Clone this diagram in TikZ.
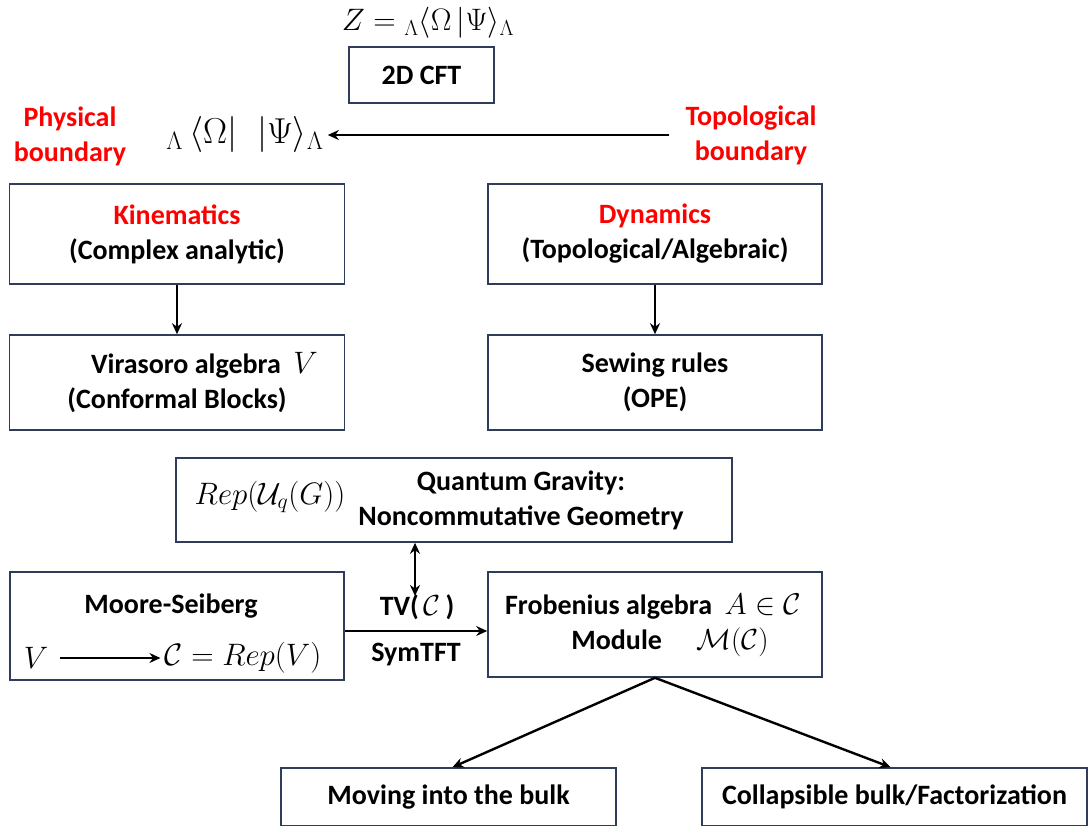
\RequirePackage{fix-cm}
\documentclass[tikz,border=0pt]{standalone}
\usepackage{fontspec}
\setmainfont{Carlito}
\usetikzlibrary{arrows.meta}
\definecolor{boxc}{RGB}{47,60,90}
\definecolor{redt}{RGB}{255,0,0}
\newcommand{\mfs}[1]{\mdseries\fontsize{#1}{#1}\selectfont}
\begin{document}
\begin{tikzpicture}[x=1pt,y=-1pt,
  box/.style={draw=boxc,line width=1.6pt,inner sep=0pt,align=center,
    font=\bfseries\fontsize{28}{35}\selectfont},
  lbl/.style={font=\bfseries\fontsize{28}{35}\selectfont,inner sep=0pt,align=center},
  redlbl/.style={lbl,text=redt},
  mth/.style={inner sep=0pt,font=\fontsize{31}{35}\selectfont},
  arr/.style={-{Stealth[length=11pt,width=10pt]},line width=1.8pt},
  darr/.style={{Stealth[length=11pt,width=10pt]}-{Stealth[length=11pt,width=10pt]},line width=1.8pt}]
\useasboundingbox (0,0) rectangle (1089,826);

% top
\node[mth,font=\fontsize{31}{35}\selectfont] (z) at (428,23) {$Z = {}_{\Lambda}\langle\Omega\,|\Psi\rangle_{\Lambda}$};
\node[box,minimum width=145pt,minimum height=56pt] (cft) at (421.5,75) {2D CFT};
\node[redlbl] (phys) at (70,136) {Physical\\boundary};
\node[mth,font=\fontsize{36}{40}\selectfont] (braket) at (245,135) {${}_{\Lambda}\,\langle\Omega|\;\;|\Psi\rangle_{\Lambda}$};
\node[redlbl] (topo) at (751,135) {Topological\\boundary};
\draw[arr] ([xshift=-16pt]topo.west) -- ([xshift=4pt]braket.east);

% kinematics / dynamics
\node[box,minimum width=335pt,minimum height=100pt] (kin) at (177,234)
  {\textcolor{redt}{Kinematics}\\(Complex analytic)};
\node[box,minimum width=334pt,minimum height=100pt] (dyn) at (655,234)
  {\textcolor{redt}{Dynamics}\\(Topological/Algebraic)};
\node[box,minimum width=335pt,minimum height=95pt] (vir) at (177,382.5)
  {\hspace*{55pt}Virasoro algebra \ {\mfs{31}$V$}\\(Conformal Blocks)};
\node[box,minimum width=334pt,minimum height=95pt] (sew) at (655,382.5)
  {Sewing rules\\(OPE)};
\draw[arr] (kin.south) -- (vir.north);
\draw[arr] (dyn.south) -- (sew.north);

% quantum gravity
\node[box,minimum width=556pt,minimum height=84pt] (qg) at (454,500) {};
\node[mth] (rep) at (270,497) {$Rep(\mathcal{U}_q(G))$};
\node[lbl] (qgt) at (521,500) {Quantum Gravity:\\Noncommutative Geometry};

% Moore-Seiberg
\node[box,minimum width=334pt,minimum height=108pt] (ms) at (177,626) {};
\node[lbl] (mst) at (171,606) {Moore-Seiberg};
\node[mth] (vv) at (36,658) {$V$};
\node[mth] (crep) at (243,658) {$\mathcal{C} = Rep(V)$};
\draw[arr] ([xshift=12pt]vv.east) -- ([xshift=-4pt]crep.west);

% Frobenius
\node[box,minimum width=334pt,minimum height=105pt] (frob) at (655,624.5) {};
\node[lbl] (frt) at (653,607) {Frobenius algebra \ {\mfs{30}$A\in\mathcal{C}$}};
\node[lbl] (modt) at (670,642) {Module \quad {\mfs{29}$\mathcal{M}(\mathcal{C})$}};

% TV / SymTFT
\node[lbl] (tv) at (417,607) {TV({\mfs{29}$\,\mathcal{C}\,$})};
\node[lbl] (sym) at (416,655) {SymTFT};
\coordinate (dtip) at (415,596);
\draw[darr] ([xshift=-39pt]qg.south) -- (dtip);
\draw[arr] ([yshift=-5pt]ms.east) -- ([yshift=-5pt]ms.east -| frob.west);

% bottom
\node[box,minimum width=335pt,minimum height=58pt] (move) at (448.5,797) {Moving into the bulk};
\node[box,minimum width=385pt,minimum height=58pt] (coll) at (894.5,797) {Collapsible bulk/Factorization};
\draw[arr,line width=2.4pt] (frob.south) -- ([xshift=4pt]move.north);
\draw[arr,line width=2.4pt] (frob.south) -- ([xshift=-4pt]coll.north);
\end{tikzpicture}
\end{document}
